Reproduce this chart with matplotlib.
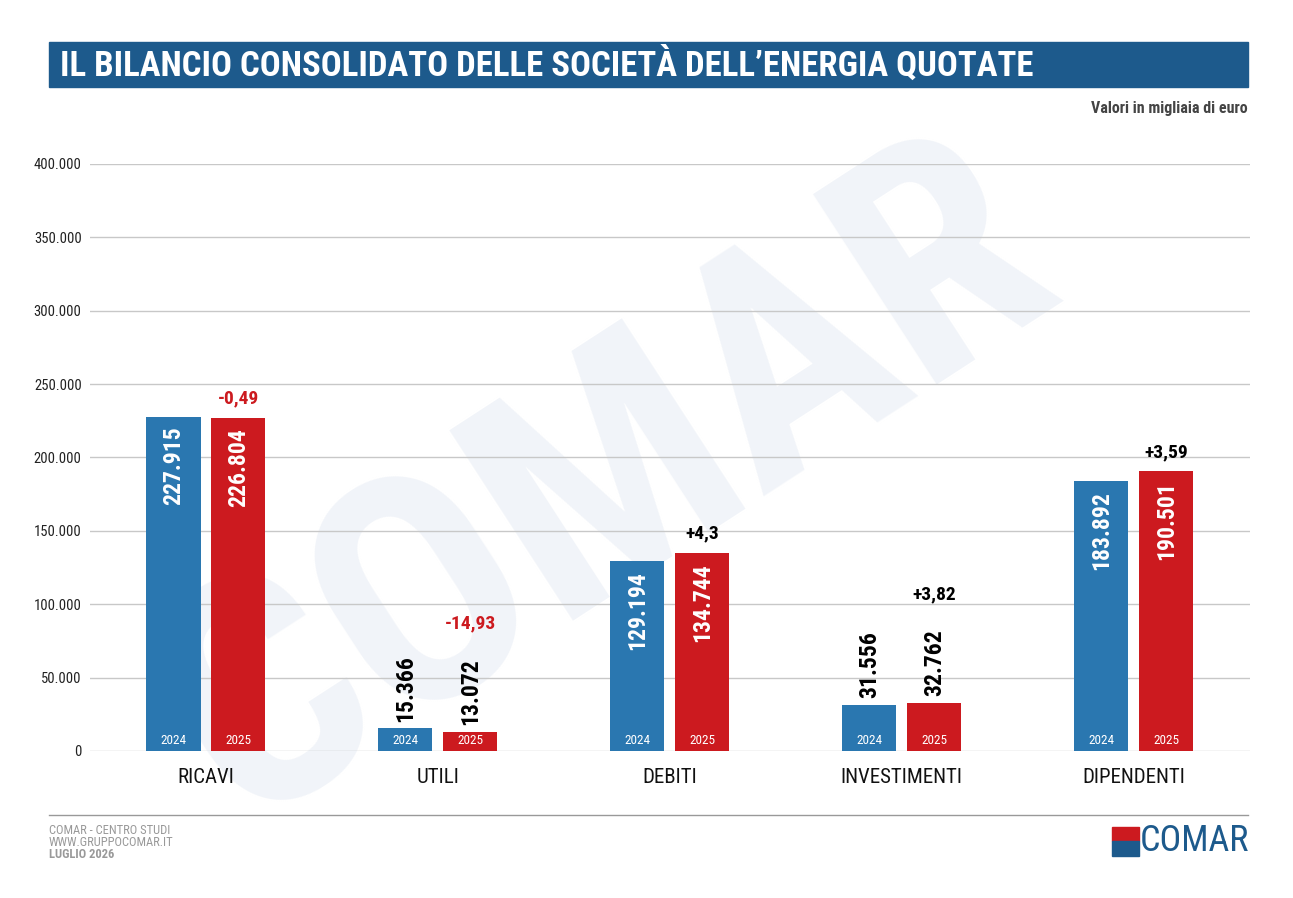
import matplotlib
matplotlib.use("Agg")
import matplotlib.pyplot as plt
from matplotlib import font_manager
from matplotlib.patches import Rectangle

names = set(f.name for f in font_manager.fontManager.ttflist)
COND = next((n for n in ["Roboto Condensed", "Liberation Sans Narrow", "DejaVu Sans"] if n in names), "DejaVu Sans")
plt.rcParams['font.family'] = [COND, 'DejaVu Sans']

categories = ["RICAVI", "UTILI", "DEBITI", "INVESTIMENTI", "DIPENDENTI"]
values_2024 = [227915, 15366, 129194, 31556, 183892]
values_2025 = [226804, 13072, 134744, 32762, 190501]
labels_2024 = ["227.915", "15.366", "129.194", "31.556", "183.892"]
labels_2025 = ["226.804", "13.072", "134.744", "32.762", "190.501"]
changes = ["-0,49", "-14,93", "+4,3", "+3,82", "+3,59"]
yticks = [0, 50000, 100000, 150000, 200000, 250000, 300000, 350000, 400000]
ytick_labels = ["0", "50.000", "100.000", "150.000", "200.000", "250.000", "300.000", "350.000", "400.000"]

BLUE = "#2a77b0"
RED = "#cc1a1f"
DARK = "#1d5a8c"

fig = plt.figure(figsize=(12.93, 8.98), dpi=100)
ax = fig.add_axes([0.0696, 0.1637, 0.897, 0.6537])
ax.set_zorder(2)

# faint watermark behind the chart
fig.text(0.47, 0.46, "COMAR", fontsize=230, fontweight="bold", color="#f1f4f9",
         rotation=33, ha="center", va="center", zorder=0)

w = 0.233
off = 0.14
x = range(len(categories))
for i in x:
    for v, lab, col, yr, dx in [(values_2024[i], labels_2024[i], BLUE, "2024", -off),
                                (values_2025[i], labels_2025[i], RED, "2025", off)]:
        ax.bar(i + dx, v, width=w, color=col, zorder=3)
        ax.text(i + dx, 7000, yr, color="white", fontsize=9.5, ha="center", va="center", zorder=4)
        if v > 60000:
            ax.annotate(lab, (i + dx, v), xytext=(0, -7), textcoords="offset points",
                        rotation=90, ha="center", va="top", color="white",
                        fontsize=17, fontweight="bold", zorder=4)
        else:
            ax.annotate(lab, (i + dx, v), xytext=(0, 5), textcoords="offset points",
                        rotation=90, ha="center", va="bottom", color="black",
                        fontsize=17, fontweight="bold", zorder=4)
    c = changes[i]
    dy = 14 if values_2025[i] > 60000 else 78
    ax.annotate(c, (i + off, values_2025[i]), xytext=(0, dy), textcoords="offset points",
                ha="center", va="center", fontsize=14, fontweight="bold",
                color=RED if c.startswith("-") else "black", zorder=4)

ax.set_xlim(-0.5, 4.5)
ax.set_ylim(0, 400000)
ax.set_yticks(yticks)
ax.set_yticklabels(ytick_labels, fontsize=10.5, color="#222222")
ax.set_xticks(list(x))
ax.set_xticklabels(categories, fontsize=15, color="#111111")
ax.tick_params(axis="y", length=0, pad=6)
ax.tick_params(axis="x", length=0, pad=12)
ax.grid(axis="y", color="#c8c8c8", linewidth=1, zorder=0)
for s in ax.spines.values():
    s.set_visible(False)
ax.patch.set_alpha(0)

# title bar
fig.patches.append(Rectangle((49 / 1293, 1 - 87 / 898), 1199 / 1293, 45 / 898,
                             transform=fig.transFigure, color=DARK, zorder=1))
fig.text(60 / 1293, 1 - 65 / 898, "IL BILANCIO CONSOLIDATO DELLE SOCIETÀ DELL’ENERGIA QUOTATE",
         color="white", fontsize=25, fontweight="bold", va="center", ha="left", zorder=3)
fig.text(1248 / 1293, 1 - 108 / 898, "Valori in migliaia di euro", color="#444444",
         fontsize=11.5, fontweight="bold", ha="right", va="center")

# footer
fig.add_artist(plt.Line2D([49 / 1293, 1248 / 1293], [1 - 815 / 898] * 2,
                          transform=fig.transFigure, color="#999999", linewidth=1))
fig.text(49 / 1293, 1 - 830 / 898, "COMAR - CENTRO STUDI", color="#999999", fontsize=9, va="center")
fig.text(49 / 1293, 1 - 842 / 898, "WWW.GRUPPOCOMAR.IT", color="#999999", fontsize=9, va="center")
fig.text(49 / 1293, 1 - 854 / 898, "LUGLIO 2026", color="#999999", fontsize=9,
         fontweight="bold", va="center")
fig.text(1249 / 1293, 1 - 841 / 898, "COMAR", color=DARK, fontsize=26, ha="right", va="center")
fig.patches.append(Rectangle((1112 / 1293, 1 - 841 / 898), 27 / 1293, 14 / 898,
                             transform=fig.transFigure, color=RED, zorder=1))
fig.patches.append(Rectangle((1112 / 1293, 1 - 856 / 898), 27 / 1293, 15 / 898,
                             transform=fig.transFigure, color=DARK, zorder=1))

fig.savefig("out.png", dpi=100)
